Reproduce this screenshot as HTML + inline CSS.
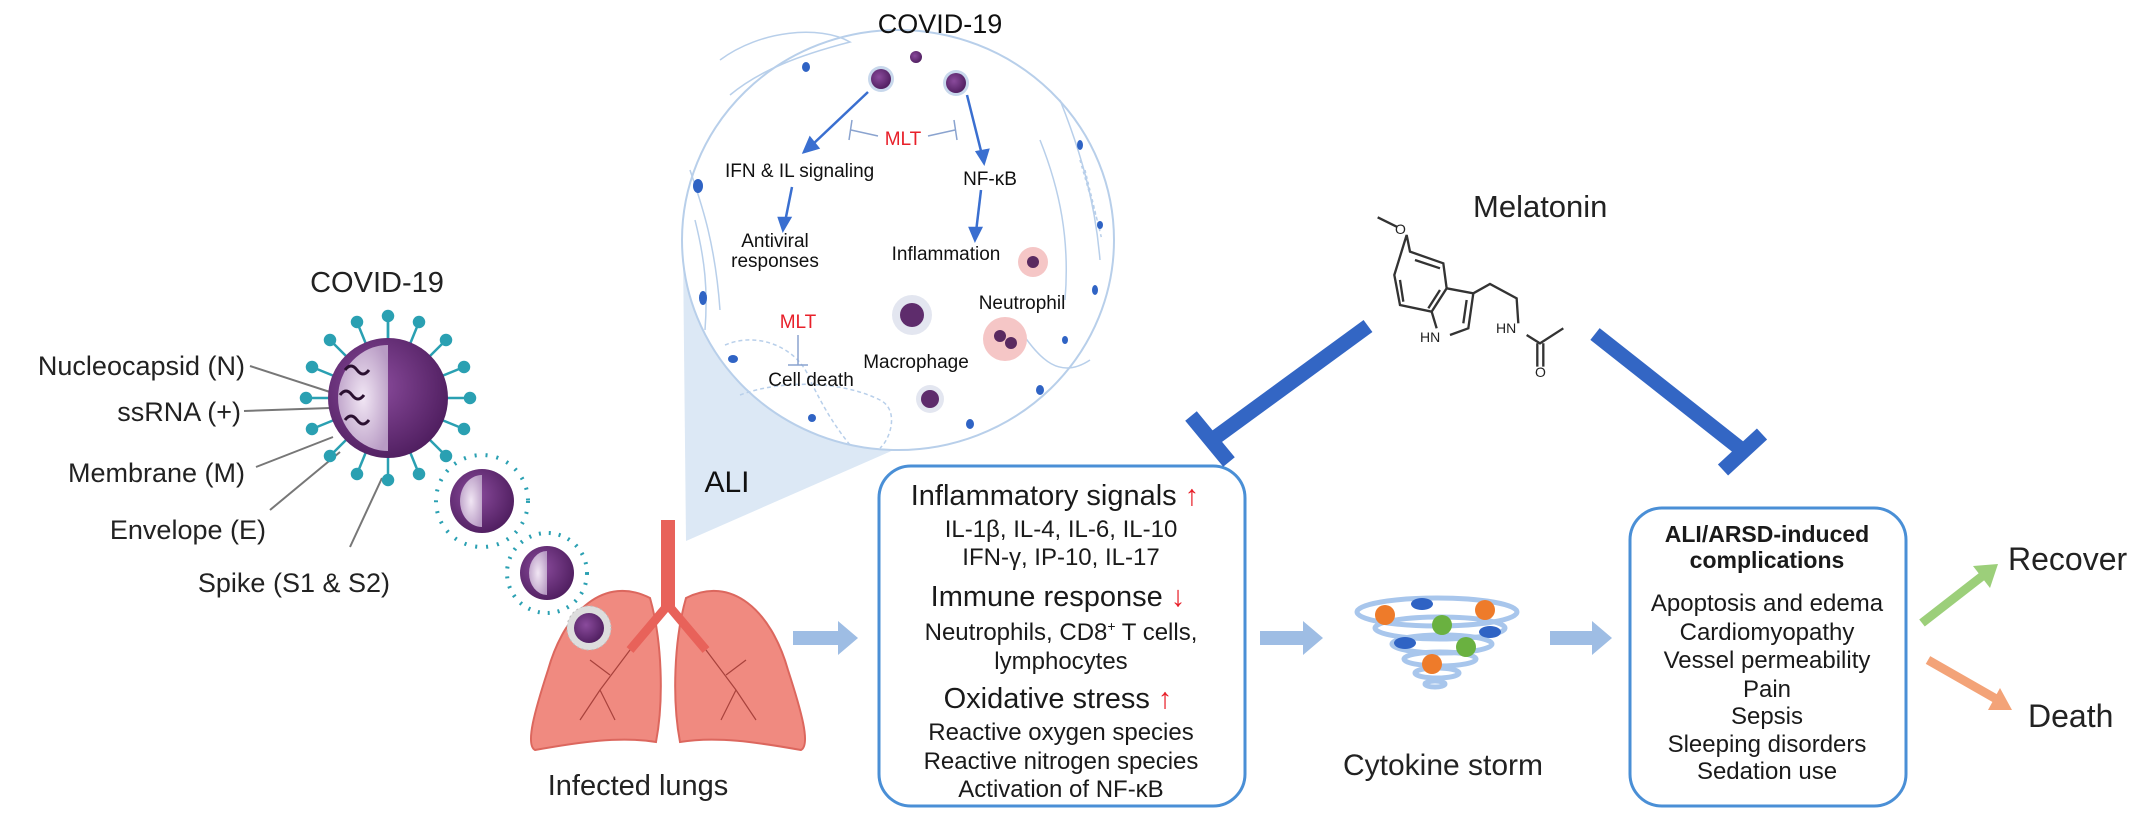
<!DOCTYPE html>
<html><head><meta charset="utf-8"><style>
html,body{margin:0;padding:0;background:#fff;}
svg{display:block;font-family:"Liberation Sans",Arial,sans-serif;}
</style></head><body>
<svg width="2150" height="823" viewBox="0 0 2150 823" xmlns="http://www.w3.org/2000/svg">
<defs>
<radialGradient id="vg" cx="0.4" cy="0.4" r="0.7"><stop offset="0" stop-color="#8a4b9c"/><stop offset="1" stop-color="#4a1a5a"/></radialGradient>
<radialGradient id="vi" cx="0.5" cy="0.5" r="0.6"><stop offset="0" stop-color="#f1e6f4"/><stop offset="1" stop-color="#b89bc4"/></radialGradient>
</defs>

<!-- cone -->
<polygon points="683,250 686,541 905,445 880,200" fill="#dce8f5"/>
<!-- inset circle -->
<ellipse cx="898" cy="240" rx="216" ry="210" fill="#fff" stroke="#b8cfea" stroke-width="2"/>
<g fill="none" stroke="#b8cfea" stroke-width="1.5">
<path d="M720,60 C760,30 820,25 850,42 C800,55 760,70 730,95"/>
<path d="M690,170 C700,200 715,240 720,310 M695,220 C705,260 708,290 705,330"/>
<path d="M725,345 C760,330 800,350 810,380 C820,400 830,420 850,445" stroke-dasharray="4,3"/>
<path d="M740,395 C780,380 840,380 880,400 C900,410 890,440 880,448" stroke-dasharray="4,3"/>
<path d="M1060,100 C1080,150 1095,200 1100,260 M1040,140 C1060,190 1070,240 1065,300"/>
<path d="M1020,330 C1040,360 1060,380 1090,360"/>
<path d="M1080,160 L1100,230 M1085,170 L1102,240" stroke-dasharray="3,3"/>
</g>
<g fill="#2f63c4">
<ellipse cx="806" cy="67" rx="4" ry="5"/><ellipse cx="698" cy="186" rx="5" ry="7"/><ellipse cx="703" cy="298" rx="4" ry="7"/>
<ellipse cx="733" cy="359" rx="5" ry="4"/><ellipse cx="812" cy="418" rx="4" ry="4"/><ellipse cx="970" cy="424" rx="4" ry="5"/>
<ellipse cx="1040" cy="390" rx="4" ry="5"/><ellipse cx="1080" cy="145" rx="3" ry="5"/><ellipse cx="1095" cy="290" rx="3" ry="5"/>
<ellipse cx="1065" cy="340" rx="3" ry="4"/><ellipse cx="1100" cy="225" rx="3" ry="4"/>
</g>
<!-- inset viruses -->
<g><circle cx="881" cy="79" r="13" fill="#c8d8ec"/><circle cx="881" cy="79" r="10" fill="url(#vg)"/>
<circle cx="916" cy="57" r="6" fill="url(#vg)"/>
<circle cx="956" cy="83" r="13" fill="#c8d8ec"/><circle cx="956" cy="83" r="10" fill="url(#vg)"/></g>
<!-- inset cells -->
<circle cx="1033" cy="262" r="15" fill="#f5c6c6"/><circle cx="1033" cy="262" r="6" fill="#5a2a60"/>
<circle cx="1005" cy="339" r="22" fill="#f5c6c6"/><circle cx="1000" cy="336" r="6" fill="#5a2a60"/><circle cx="1011" cy="343" r="6" fill="#5a2a60"/>
<circle cx="912" cy="315" r="20" fill="#e3e6f0"/><circle cx="912" cy="315" r="12" fill="#5e2c6c"/>
<circle cx="930" cy="399" r="14" fill="#e3e6f0"/><circle cx="930" cy="399" r="9" fill="#5e2c6c"/>
<!-- inset arrows -->
<g stroke="#3a6fd0" stroke-width="2.5" fill="#3a6fd0">
<line x1="868" y1="92" x2="812" y2="145"/><polygon points="804,152 818,148 810,138"/>
<line x1="792" y1="187" x2="785" y2="222"/><polygon points="783,230 790,218 779,218"/>
<line x1="967" y1="95" x2="982" y2="155"/><polygon points="984,163 988,150 977,152"/>
<line x1="981" y1="190" x2="976" y2="232"/><polygon points="975,240 981,228 970,228"/>
</g>
<g stroke="#8aa3cf" stroke-width="1.5" fill="none">
<line x1="878" y1="136" x2="851" y2="130"/><line x1="852" y1="120" x2="849" y2="140"/>
<line x1="928" y1="136" x2="955" y2="130"/><line x1="954" y1="120" x2="957" y2="140"/>
<line x1="798" y1="335" x2="798" y2="365"/><line x1="788" y1="365" x2="808" y2="365"/>
</g>
<g font-size="19" fill="#111">
<text x="940" y="33" font-size="27" text-anchor="middle">COVID-19</text>
<text x="903" y="145" fill="#e8202a" text-anchor="middle">MLT</text>
<text x="725" y="177">IFN &amp; IL signaling</text>
<text x="990" y="185" text-anchor="middle">NF-κB</text>
<text x="775" y="247" text-anchor="middle">Antiviral</text>
<text x="775" y="267" text-anchor="middle">responses</text>
<text x="946" y="260" text-anchor="middle">Inflammation</text>
<text x="1022" y="309" text-anchor="middle">Neutrophil</text>
<text x="798" y="328" fill="#e8202a" text-anchor="middle">MLT</text>
<text x="916" y="368" text-anchor="middle">Macrophage</text>
<text x="811" y="386" text-anchor="middle">Cell death</text>
</g>
<text x="727" y="492" font-size="30" text-anchor="middle" fill="#111">ALI</text>

<!-- left virus labels -->
<text x="377" y="292" font-size="29" text-anchor="middle" fill="#222">COVID-19</text>
<g font-size="27" fill="#222" text-anchor="end">
<text x="245" y="375">Nucleocapsid (N)</text>
<text x="241" y="421">ssRNA (+)</text>
<text x="245" y="482">Membrane (M)</text>
<text x="266" y="539">Envelope (E)</text>
<text x="390" y="592">Spike (S1 &amp; S2)</text>
</g>
<g stroke="#777" stroke-width="2">
<line x1="250" y1="366" x2="330" y2="392"/><line x1="244" y1="411" x2="330" y2="408"/>
<line x1="256" y1="467" x2="333" y2="437"/><line x1="270" y1="510" x2="340" y2="452"/>
<line x1="350" y1="547" x2="382" y2="478"/>
</g>
<!-- big virus -->
<g stroke="#2a9fb0" stroke-width="2.5">
<g id="sp"><line x1="388" y1="398" x2="388" y2="318"/></g>
</g>
<g fill="#2aa0b2" stroke="#2aa0b2" stroke-width="2.5">
<line x1="388" y1="398" x2="388" y2="316"/><line x1="388" y1="398" x2="388" y2="480"/>
<line x1="388" y1="398" x2="306" y2="398"/><line x1="388" y1="398" x2="470" y2="398"/>
<line x1="388" y1="398" x2="330" y2="340"/><line x1="388" y1="398" x2="446" y2="340"/>
<line x1="388" y1="398" x2="330" y2="456"/><line x1="388" y1="398" x2="446" y2="456"/>
<line x1="388" y1="398" x2="357" y2="322"/><line x1="388" y1="398" x2="419" y2="322"/>
<line x1="388" y1="398" x2="357" y2="474"/><line x1="388" y1="398" x2="419" y2="474"/>
<line x1="388" y1="398" x2="312" y2="367"/><line x1="388" y1="398" x2="464" y2="367"/>
<line x1="388" y1="398" x2="312" y2="429"/><line x1="388" y1="398" x2="464" y2="429"/>
<circle cx="388" cy="316" r="5"/><circle cx="388" cy="480" r="5"/><circle cx="306" cy="398" r="5"/><circle cx="470" cy="398" r="5"/>
<circle cx="330" cy="340" r="5"/><circle cx="446" cy="340" r="5"/><circle cx="330" cy="456" r="5"/><circle cx="446" cy="456" r="5"/>
<circle cx="357" cy="322" r="5"/><circle cx="419" cy="322" r="5"/><circle cx="357" cy="474" r="5"/><circle cx="419" cy="474" r="5"/>
<circle cx="312" cy="367" r="5"/><circle cx="464" cy="367" r="5"/><circle cx="312" cy="429" r="5"/><circle cx="464" cy="429" r="5"/>
</g>
<circle cx="388" cy="398" r="60" fill="url(#vg)"/>
<path d="M388,345 A50,53 0 0 0 388,451 Z" fill="url(#vi)"/>
<path d="M345,370 q6,-8 12,0 q6,8 12,0 M340,395 q6,-8 12,0 q6,8 12,0 M345,420 q6,-8 12,0 q6,8 12,0" stroke="#2a1030" stroke-width="3" fill="none"/>
<!-- virus 2,3 -->
<circle cx="482" cy="501" r="46" fill="none" stroke="#2aa0b2" stroke-width="4" stroke-dasharray="2,9"/>
<circle cx="482" cy="501" r="32" fill="url(#vg)"/><path d="M482,475 A22,26 0 0 0 482,527 Z" fill="url(#vi)"/>
<circle cx="547" cy="573" r="40" fill="none" stroke="#2aa0b2" stroke-width="4" stroke-dasharray="2,8"/>
<circle cx="547" cy="573" r="27" fill="url(#vg)"/><path d="M547,551 A18,22 0 0 0 547,595 Z" fill="url(#vi)"/>

<!-- lungs -->
<path d="M650,598 C605,575 565,610 548,670 C535,710 525,745 535,750 C580,742 620,736 656,742 C664,700 662,640 650,598 Z" fill="#f08a80" stroke="#dc675e" stroke-width="2"/>
<path d="M686,598 C731,575 771,610 788,670 C801,710 811,745 801,750 C756,742 716,736 680,742 C672,700 674,640 686,598 Z" fill="#f08a80" stroke="#dc675e" stroke-width="2"/>
<rect x="661" y="520" width="14" height="90" fill="#e8625a"/>
<path d="M668,605 L630,650 M668,605 L706,650" stroke="#e8625a" stroke-width="9" fill="none"/>
<g stroke="#a8423c" stroke-width="1.2" fill="none">
<path d="M630,650 L600,690 L580,720 M610,675 L590,660 M600,690 L615,720"/>
<path d="M706,650 L736,690 L756,720 M726,675 L746,660 M736,690 L721,720"/>
</g>
<circle cx="589" cy="628" r="22" fill="#ddd" stroke="#bbb" stroke-dasharray="2,3"/>
<circle cx="589" cy="628" r="15" fill="url(#vg)"/>
<text x="638" y="795" font-size="29" text-anchor="middle" fill="#222">Infected lungs</text>

<!-- block arrows -->
<g fill="#9ebde4">
<polygon points="793,631 838,631 838,621 858,638 838,655 838,645 793,645"/>
<polygon points="1260,631 1303,631 1303,621 1323,638 1303,655 1303,645 1260,645"/>
<polygon points="1550,631 1592,631 1592,621 1612,638 1592,655 1592,645 1550,645"/>
</g>

<!-- box 1 -->
<rect x="879" y="466" width="366" height="340" rx="32" fill="#fff" stroke="#4a8fd6" stroke-width="3"/>
<g text-anchor="middle" fill="#1a1a1a">
<text x="1055" y="505" font-size="29">Inflammatory signals <tspan fill="#e8202a">↑</tspan></text>
<text x="1061" y="537" font-size="24">IL-1β, IL-4, IL-6, IL-10</text>
<text x="1061" y="565" font-size="24">IFN-γ, IP-10, IL-17</text>
<text x="1058" y="606" font-size="29">Immune response <tspan fill="#e8202a">↓</tspan></text>
<text x="1061" y="640" font-size="24">Neutrophils, CD8<tspan font-size="14" dy="-9">+</tspan><tspan dy="9"> T cells,</tspan></text>
<text x="1061" y="669" font-size="24">lymphocytes</text>
<text x="1058" y="708" font-size="29">Oxidative stress <tspan fill="#e8202a">↑</tspan></text>
<text x="1061" y="740" font-size="24">Reactive oxygen species</text>
<text x="1061" y="769" font-size="24">Reactive nitrogen species</text>
<text x="1061" y="797" font-size="24">Activation of NF-κB</text>
</g>

<!-- tornado -->
<g fill="none" stroke="#a8c6ec" stroke-width="5">
<ellipse cx="1437" cy="612" rx="80" ry="14"/><ellipse cx="1440" cy="628" rx="65" ry="11"/>
<ellipse cx="1442" cy="644" rx="50" ry="9"/><ellipse cx="1440" cy="659" rx="36" ry="7"/>
<ellipse cx="1437" cy="673" rx="22" ry="5"/><ellipse cx="1435" cy="684" rx="10" ry="3"/>
</g>
<g>
<circle cx="1385" cy="615" r="10" fill="#ee7b2a"/><ellipse cx="1422" cy="604" rx="11" ry="6" fill="#2f63c4"/>
<circle cx="1485" cy="610" r="10" fill="#ee7b2a"/><circle cx="1442" cy="625" r="10" fill="#6ab140"/>
<ellipse cx="1490" cy="632" rx="11" ry="6" fill="#2f63c4"/><ellipse cx="1405" cy="643" rx="11" ry="6" fill="#2f63c4"/>
<circle cx="1466" cy="647" r="10" fill="#6ab140"/><circle cx="1432" cy="664" r="10" fill="#ee7b2a"/>
</g>
<text x="1443" y="775" font-size="30" text-anchor="middle" fill="#222">Cytokine storm</text>

<!-- box 2 -->
<rect x="1630" y="508" width="276" height="298" rx="32" fill="#fff" stroke="#4a8fd6" stroke-width="3"/>
<g text-anchor="middle" fill="#1a1a1a">
<text x="1767" y="542" font-size="23" font-weight="bold">ALI/ARSD-induced</text>
<text x="1767" y="568" font-size="23" font-weight="bold">complications</text>
<g font-size="24">
<text x="1767" y="611">Apoptosis and edema</text>
<text x="1767" y="640">Cardiomyopathy</text>
<text x="1767" y="668">Vessel permeability</text>
<text x="1767" y="697">Pain</text>
<text x="1767" y="724">Sepsis</text>
<text x="1767" y="752">Sleeping disorders</text>
<text x="1767" y="779">Sedation use</text>
</g>
</g>
<!-- outcome arrows -->
<g stroke-width="9" fill="none">
<line x1="1922" y1="623" x2="1985" y2="574" stroke="#9ccf7a"/>
<line x1="1928" y1="660" x2="1998" y2="700" stroke="#f3a378"/>
</g>
<polygon points="1998,564 1973,566 1990,588" fill="#9ccf7a"/>
<polygon points="2012,710 2000,688 1988,710" fill="#f3a378"/>
<text x="2008" y="570" font-size="32" fill="#222">Recover</text>
<text x="2028" y="727" font-size="32" fill="#222">Death</text>

<!-- inhibition bars -->
<g stroke="#3366c4" stroke-width="15" fill="none">
<line x1="1368" y1="326" x2="1212" y2="440"/>
<line x1="1191" y1="416" x2="1229" y2="462"/>
<line x1="1595" y1="334" x2="1742" y2="450"/>
<line x1="1723" y1="470" x2="1762" y2="434"/>
</g>

<!-- melatonin -->
<text x="1473" y="217" font-size="31" fill="#222">Melatonin</text>
<g transform="translate(1300,80) scale(0.3333)" stroke="#333" stroke-width="7" fill="none">
<path d="M233,412 L290,440 M320,465 L330,515 L430,550 L440,625 L395,695 L300,675 L283,585 Z"/>
<path d="M345,540 L420,565 M300,600 L310,665 M420,630 L385,685"/>
<path d="M440,625 L520,640 L505,745 L450,765 M410,745 L395,695 M500,660 L490,730"/>
<path d="M520,640 L570,612 L650,655 L655,730"/>
<path d="M680,765 L720,790 L790,745 M712,790 L712,860 M730,790 L730,860"/>
</g>
<g font-size="14" fill="#222">
<text x="1395" y="234">O</text>
<text x="1420" y="342">HN</text>
<text x="1496" y="333">HN</text>
<text x="1535" y="377">O</text>
</g>
</svg>
</body></html>
